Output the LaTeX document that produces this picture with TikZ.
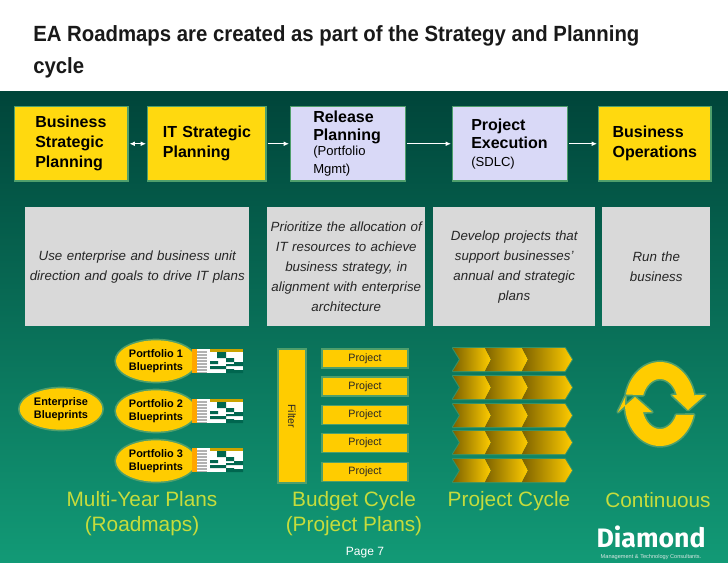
\documentclass[tikz,border=0pt]{standalone}
\usepackage{fontspec}
\setmainfont{Liberation Sans}
\newfontfamily\logofont{Fira Sans}
\newfontfamily\titlefont[FakeStretch=0.925]{Liberation Sans}
\usetikzlibrary{arrows.meta,shapes.geometric}
\definecolor{glow}{HTML}{4F9F6C}
\definecolor{boxyellow}{HTML}{FFD90F}
\definecolor{lav}{HTML}{D9D9F7}
\definecolor{gold}{HTML}{FFCC00}
\definecolor{teal}{HTML}{00664F}
\definecolor{cap}{HTML}{C6DC3C}
\definecolor{chevdark}{HTML}{7D6200}
\definecolor{bgtop}{HTML}{00453A}
\definecolor{bgmid}{HTML}{00755A}
\definecolor{bgbot}{HTML}{129A76}
\tikzset{
 glowed/.style={preaction={draw=glow,line width=2.5pt}},
 flowbox/.style={glowed,anchor=north west,minimum height=54.75pt,align=left,inner ysep=0pt,text=black,font=\fontsize{12}{15}\selectfont\bfseries},
 yel/.style={flowbox,fill=boxyellow},
 lavbox/.style={flowbox,fill=lav},
 flow/.style={draw=white,line width=.7pt,shorten <=1.5pt,shorten >=1.5pt,-{Latex[length=4pt,width=3.5pt]}},
 flowboth/.style={flow,{Latex[length=4pt,width=3.5pt]}-{Latex[length=4pt,width=3.5pt]}},
 note/.style={fill=black!15,anchor=north west,minimum height=89pt,align=center,inner sep=0pt,text=black!85,font=\fontsize{10}{15}\selectfont\itshape},
 blue/.style={glowed,ellipse,fill=gold,minimum width=60pt,minimum height=31pt,inner sep=0pt,align=center,text=black,font=\fontsize{8.2}{9.9}\selectfont\bfseries},
 proj/.style={glowed,fill=gold,minimum width=63pt,minimum height=13pt,inner sep=0pt,text=black!85,font=\fontsize{8}{10}\selectfont},
 capt/.style={text=cap,align=center,inner sep=0pt,font=\fontsize{15.6}{18.8}\selectfont},
 chev/.style={left color=chevdark,right color=gold},
 ring/.style={fill=gold,preaction={draw=glow,line width=2.5pt,line join=round}},
}
\newcommand\chevrow[1]{%
 \draw[glow!70!bgmid,line width=1.5pt,line join=round] (453,#1) -- (565,#1) -- (572,#1+11.5) -- (565,#1+23) -- (453,#1+23) -- (460,#1+11.5) -- cycle;
 \shade[chev] (453,#1) -- (485,#1) -- (491,#1+11.5) -- (485,#1+23) -- (453,#1+23) -- (460,#1+11.5) -- cycle;
 \shade[chev] (485,#1) -- (522,#1) -- (528,#1+11.5) -- (522,#1+23) -- (485,#1+23) -- (491,#1+11.5) -- cycle;
 \shade[chev] (522,#1) -- (565,#1) -- (572,#1+11.5) -- (565,#1+23) -- (522,#1+23) -- (528,#1+11.5) -- cycle;
}
\newcommand\gantt[1]{%
 \begin{scope}[shift={(192,#1)}]
 \fill[white] (0,0) rectangle (51,24);
 \fill[orange!70!yellow] (0,0) rectangle (5,24);
 \fill[black!30] (5,2) rectangle (15,24);
 \foreach \k in {4,7,...,22} \fill[white] (5,\k) rectangle (15,\k+1);
 \fill[gold!80!black] (18,0) rectangle (51,3);
 \fill[teal] (25,3) rectangle (34,9) (34,9) rectangle (42,13) (42,13) rectangle (51,16)
   (18,12) rectangle (26,15) (18,17) rectangle (34,20) (34,20) rectangle (42,24) (34,15) rectangle (51,17) (42,21) rectangle (51,24);
 \end{scope}}
\begin{document}
\begin{tikzpicture}[x=.75pt,y=-.75pt]
\useasboundingbox (0,0) rectangle (728,563);
\fill[white] (0,0) rectangle (728,563);
\shade[top color=bgtop,middle color=bgmid,bottom color=bgbot] (0,92) rectangle (728,563);
\node[anchor=north west,align=left,inner sep=0pt,text=black!90,font=\titlefont\fontsize{16.5}{24}\selectfont\bfseries] (title) at (33,25)
 {EA Roadmaps are created as part of the Strategy and Planning\\cycle};

\node[yel,minimum width=84pt,inner xsep=15pt,text width=54pt] (bsp) at (15,107) {Business\\Strategic\\Planning};
\node[yel,minimum width=87.75pt,inner xsep=11pt,text width=65.75pt] (its) at (148,107) {\mbox{IT Strategic}\\Planning};
\node[lavbox,minimum width=85pt,inner xsep=16.5pt,text width=52pt,font=\fontsize{12}{13.5}\selectfont\bfseries] (rel) at (291,107) {Release\\Planning\\{\fontsize{9.8}{11.5}\selectfont\mdseries (Portfolio\\Mgmt)}};
\node[lavbox,minimum width=85pt,inner xsep=13.5pt,text width=58pt,font=\fontsize{12}{13.5}\selectfont\bfseries] (pex) at (453,107) {Project\\Execution\\{\fontsize{9.8}{11.5}\selectfont\mdseries (SDLC)}};
\node[yel,minimum width=83pt,inner xsep=10pt,text width=63pt] (bop) at (599,107) {Business\\Operations};
\draw[flowboth] (bsp) -- (its);
\draw[flow] (its) -- (rel);
\draw[flow] (rel) -- (pex);
\draw[flow] (pex) -- (bop);

\node[note,text width=168pt] (n1) at (25,207) {Use enterprise and business unit\\direction and goals to drive IT plans};
\node[note,text width=118.5pt] (n2) at (267,207) {Prioritize the allocation of\\IT resources to achieve\\business strategy, in\\alignment with enterprise\\architecture};
\node[note,text width=121.5pt] (n3) at (433,207) {Develop projects that\\support businesses’\\annual and strategic\\plans};
\node[note,text width=81pt] (n4) at (602,207) {Run the\\business};

\node[blue,minimum width=62pt] (ent) at (61,409) {Enterprise\\Blueprints};
\node[blue] (p1) at (156,361) {Portfolio 1\\Blueprints};
\node[blue] (p2) at (156,411) {Portfolio 2\\Blueprints};
\node[blue] (p3) at (156,461) {Portfolio 3\\Blueprints};
\gantt{349}\gantt{399}\gantt{448}

\node[glowed,rotate=-90,fill=gold,minimum width=99pt,minimum height=19.5pt,inner sep=0pt,text=black!85,font=\fontsize{8}{10}\selectfont] (filter) at (292,416) {Filter};
\node[proj] (a1) at (365,358.5) {Project};
\node[proj] (a2) at (365,386.5) {Project};
\node[proj] (a3) at (365,415) {Project};
\node[proj] (a4) at (365,443) {Project};
\node[proj] (a5) at (365,472) {Project};

\chevrow{348}\chevrow{376}\chevrow{404}\chevrow{431}\chevrow{459}

% cycle
\def\cx{660}\def\cy{404}
\path[ring] plot[domain=167:12,samples=40] ({\cx+35*cos(\x)},{\cy-42*sin(\x)})
  -- (705,395) -- (688,410) -- (672,395)
  -- plot[domain=21:159,samples=40] ({\cx+18*cos(\x)},{\cy-25*sin(\x)}) -- cycle;
\path[ring] plot[domain=-15:-191,samples=40] ({\cx+35*cos(\x)},{\cy-42*sin(\x)})
  -- (618,412) -- (635,397) -- (652,412)
  -- plot[domain=-161:-26,samples=40] ({\cx+18*cos(\x)},{\cy-25*sin(\x)}) -- cycle;

\node[capt] (c1) at (142,514) {Multi-Year Plans\\(Roadmaps)};
\node[capt] (c2) at (354,514) {Budget Cycle\\(Project Plans)};
\node[capt] (c3) at (509,501) {Project Cycle};
\node[capt] (c4) at (658,500) {Continuous};
\node[text=white,inner sep=0pt,font=\fontsize{9}{11}\selectfont] (pg) at (365,553) {Page 7};
\node[text=white,inner sep=0pt,font=\logofont\fontsize{20}{22}\selectfont\bfseries] (logo) at (651,537) {Diamond};
\node[text=white!85!teal,inner sep=0pt,font=\fontsize{4.2}{5}\selectfont] (tag) at (651,557.5) {Management \& Technology Consultants.};
\end{tikzpicture}
\end{document}
